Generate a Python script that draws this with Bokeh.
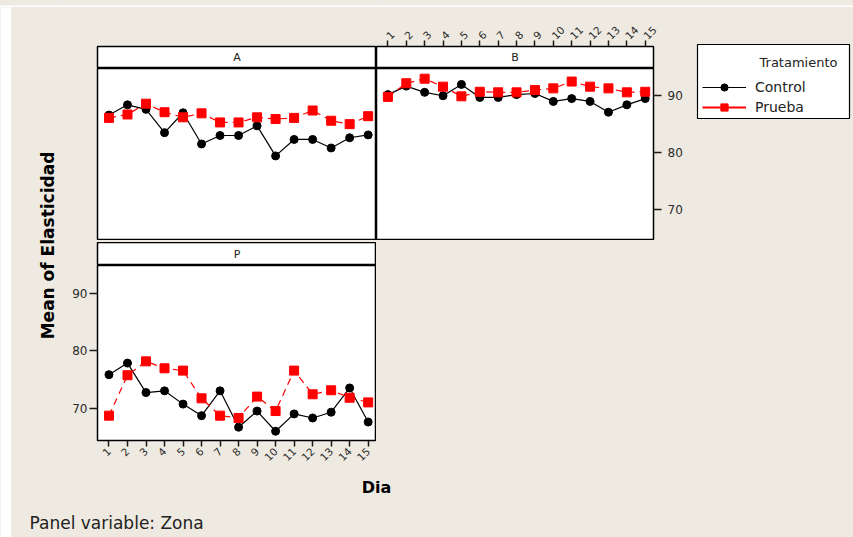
import math
from bokeh.plotting import figure
from bokeh.layouts import column, row
from bokeh.models import (Range1d, FixedTicker, Label, Legend, LegendItem,
                          ColumnDataSource, LinearAxis)
from bokeh.embed import file_html
from bokeh.resources import INLINE

# ---------------- data ----------------
dias = list(range(1, 16))
dia_labels = {d: str(d) for d in dias}
y_ticks = [70, 80, 90]

a_control = [86.6, 88.4, 87.6, 83.5, 87.0, 81.5, 83.0, 83.0, 84.7, 79.4, 82.3, 82.3, 80.8, 82.6, 83.1]
a_prueba = [86.1, 86.7, 88.6, 87.1, 86.2, 86.9, 85.3, 85.3, 86.2, 85.9, 86.1, 87.4, 85.6, 85.0, 86.4]
b_control = [90.2, 91.7, 90.6, 90.0, 92.0, 89.7, 89.7, 90.2, 90.4, 89.0, 89.5, 89.0, 87.1, 88.4, 89.5]
b_prueba = [89.8, 92.2, 93.0, 91.6, 89.9, 90.7, 90.6, 90.6, 91.0, 91.3, 92.5, 91.6, 91.3, 90.6, 90.7]
p_control = [75.9, 77.9, 72.8, 73.1, 70.8, 68.8, 73.1, 66.8, 69.6, 66.1, 69.1, 68.4, 69.4, 73.6, 67.7]
p_prueba = [68.8, 75.8, 78.2, 77.0, 76.6, 71.8, 68.8, 68.4, 72.1, 69.6, 76.6, 72.5, 73.2, 71.9, 71.1]

# ---------------- style ----------------
BG = "#EEEAE1"
FONT = "DejaVu Sans"
XR = (0.38, 15.45)
YR = (64.5, 94.8)
TICK_COLOR = "#1a1a1a"
LABEL_COLOR = "#2b2b2b"
NAN = float("nan")


def blank(width, height, fill=BG):
    p = figure(width=width, height=height, output_backend="svg", toolbar_location=None,
               x_range=Range1d(0, width), y_range=Range1d(height, 0),
               x_axis_location=None, y_axis_location=None)
    p.min_border = 0
    p.min_border_left = 0
    p.min_border_right = 0
    p.min_border_top = 0
    p.min_border_bottom = 0
    p.xgrid.visible = False
    p.ygrid.visible = False
    p.background_fill_color = fill
    p.border_fill_color = fill
    p.outline_line_color = None
    return p


def panel(width, height, yr=YR, left=0, right=0, top=0, bottom=0):
    p = figure(width=width, height=height, output_backend="svg", toolbar_location=None,
               x_range=Range1d(*XR), y_range=Range1d(*yr),
               x_axis_location=None, y_axis_location=None)
    p.min_border = 0
    p.min_border_left = left
    p.min_border_right = right
    p.min_border_top = top
    p.min_border_bottom = bottom
    p.xgrid.visible = False
    p.ygrid.visible = False
    p.background_fill_color = "white"
    p.border_fill_color = BG
    p.outline_line_color = "black"
    p.outline_line_width = 1.5
    return p


def style_axis(ax, x=True, standoff=4):
    ax.axis_line_color = None
    ax.major_tick_line_color = TICK_COLOR
    ax.major_tick_line_width = 1.5
    ax.major_tick_in = 0
    ax.minor_tick_line_color = None
    ax.major_label_text_font = FONT
    ax.major_label_text_color = LABEL_COLOR
    if x:
        ax.ticker = FixedTicker(ticks=dias)
        ax.major_label_overrides = dia_labels
        ax.major_label_orientation = math.pi / 4
        ax.major_label_text_font_size = "10.5px"
        ax.major_tick_out = 6
        ax.major_label_standoff = standoff
    else:
        ax.ticker = FixedTicker(ticks=y_ticks)
        ax.major_label_text_font_size = "12px"
        ax.major_tick_out = 8
        ax.major_label_standoff = standoff


def header(width, height, text, left=0, right=0, top=0, with_top_axis=False):
    p = panel(width, height, yr=(0, 1), left=left, right=right, top=top)
    if with_top_axis:
        ax = LinearAxis()
        style_axis(ax, x=True, standoff=3)
        p.add_layout(ax, "above")
    p.add_layout(Label(x=(XR[0] + XR[1]) / 2, y=0.5, text=text, text_align="center",
                       text_baseline="middle", text_font=FONT, text_font_size="11px",
                       text_color="#222222"))
    return p


def draw(p, control, prueba):
    p.line(dias, control, line_color="black", line_width=1.2)
    p.scatter(dias, control, marker="circle", size=8, fill_color="black", line_color="black")
    p.line(dias, prueba, line_color="#ff0000", line_width=1.2, line_dash="7 5")
    p.scatter(dias, prueba, marker="square", size=9, fill_color="#ff0000", line_color="#ff0000")


ROW_H = 463

# ---------------- left column: A and P ----------------
LW, LB = 314, 35
headA = header(LW, 61, "A", left=LB, top=39)
figA = panel(LW, 172, left=LB)
draw(figA, a_control, a_prueba)

headP = header(LW, 23, "P", left=LB)
figP = panel(LW, 205, left=LB, bottom=30)
axPy = LinearAxis()
style_axis(axPy, x=False, standoff=2)
figP.add_layout(axPy, "left")
axPx = LinearAxis()
style_axis(axPx, x=True, standoff=3)
figP.add_layout(axPx, "below")
draw(figP, p_control, p_prueba)

col_left = column(headA, figA, blank(LW, 2), headP, figP, spacing=0)

# ---------------- column B ----------------
BW, BR = 314, 37
headB = header(BW, 61, "B", right=BR, top=39, with_top_axis=True)
figB = panel(BW, 172, right=BR)
axBy = LinearAxis()
style_axis(axBy, x=False, standoff=6)
figB.add_layout(axBy, "right")
draw(figB, b_control, b_prueba)
col_b = column(headB, figB, blank(BW, ROW_H - 61 - 172), spacing=0)

# ---------------- y label ----------------
YW = 51
ylab = blank(YW, ROW_H)
ylab.add_layout(Label(x=36, y=238, text="Mean of Elasticidad", angle=math.pi / 2,
                      text_align="center", text_baseline="middle", text_font=FONT,
                      text_font_size="17px", text_font_style="bold", text_color="black"))

# ---------------- legend ----------------
LGW = 163
leg = blank(LGW, ROW_H)
leg.quad(left=[7], right=[159], top=[37], bottom=[111], fill_color="white",
         line_color="black", line_width=1.2)
src_empty = ColumnDataSource(data=dict(x=[NAN], y=[NAN]))
r_cl = leg.line("x", "y", source=src_empty, line_color="black", line_width=1.2)
r_cs = leg.scatter("x", "y", source=src_empty, marker="circle", size=8,
                   fill_color="black", line_color="black")
r_pl = leg.line("x", "y", source=src_empty, line_color="#ff0000", line_width=1.8)
r_ps = leg.scatter("x", "y", source=src_empty, marker="square", size=10,
                   fill_color="#ff0000", line_color="#ff0000")
legend = Legend(items=[LegendItem(label="Control", renderers=[r_cl, r_cs]),
                       LegendItem(label="Prueba", renderers=[r_pl, r_ps])],
                location=(12, ROW_H - 109), orientation="vertical")
legend.background_fill_alpha = 0
legend.border_line_color = None
legend.glyph_width = 44
legend.glyph_height = 18
legend.label_height = 18
legend.label_text_font = FONT
legend.label_text_font_size = "14px"
legend.label_text_color = "#222222"
legend.label_standoff = 9
legend.spacing = 2
legend.padding = 4
legend.margin = 0
leg.add_layout(legend, "center")
leg.add_layout(Label(x=69, y=55, text="Tratamiento", text_align="left", text_baseline="middle",
                     text_font=FONT, text_font_size="13px", text_color="#222222"))

top_row = row(ylab, col_left, col_b, leg, spacing=0)

# ---------------- bottom texts ----------------
CW = YW + LW + BW + LGW  # 842
bot = blank(CW, 67)
bot.add_layout(Label(x=365, y=17, text="Dia", text_align="center", text_baseline="middle",
                     text_font=FONT, text_font_size="16px", text_font_style="bold",
                     text_color="black"))
bot.add_layout(Label(x=18, y=52, text="Panel variable: Zona", text_align="left",
                     text_baseline="middle", text_font=FONT, text_font_size="17px",
                     text_color="#222222"))

content = column(top_row, bot, spacing=0)

# thin white strips at the top and left, as in the reference picture
layout = column(blank(CW + 11, 7, fill="white"),
                row(blank(11, ROW_H + 67, fill="white"), content, spacing=0),
                spacing=0)

html = file_html(layout, INLINE)
html = html.replace("</head>", "<style>html,body{margin:0;padding:0;background:%s;}</style></head>" % BG, 1)
open("out.html", "w").write(html)
